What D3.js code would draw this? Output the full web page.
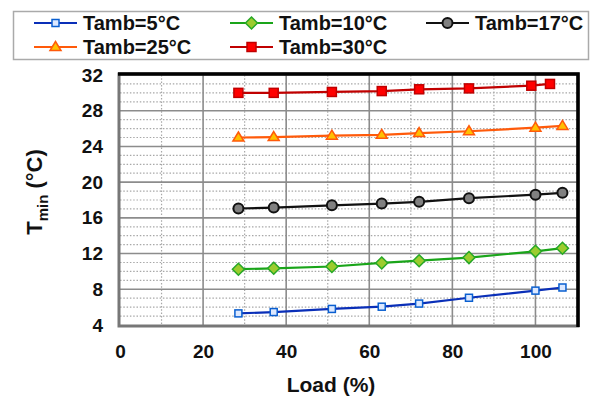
<!DOCTYPE html>
<html>
<head>
<meta charset="utf-8">
<script src="https://cdn.jsdelivr.net/npm/d3@7"></script>
<style>
  body { margin: 0; background: #fff; }
  svg text { font-family: Arial, "Liberation Sans", sans-serif; font-weight: bold; fill: #111; }
</style>
</head>
<body>
<svg id="chart" width="593" height="397"></svg>
<script>
// charge (%) pour chaque point
var loads = [28.5, 37, 51, 63, 72, 84, 100, 106.5];
var loadsRed = [28.5, 37, 51, 63, 72, 84, 99, 103.5];

// Tmin par temperature ambiante
var t5 = [5.3, 5.45, 5.8, 6.05, 6.4, 7.05, 7.85, 8.2];
var t10 = [10.25, 10.35, 10.55, 10.95, 11.2, 11.55, 12.25, 12.6];
var t17 = [17.05, 17.15, 17.4, 17.6, 17.8, 18.2, 18.6, 18.8];
var t25 = [25.0, 25.05, 25.2, 25.3, 25.5, 25.7, 26.1, 26.3];
var t30 = [30.0, 30.0, 30.1, 30.2, 30.4, 30.5, 30.8, 31.0];

var legendNames = ["Tamb=5°C", "Tamb=10°C", "Tamb=17°C", "Tamb=25°C", "Tamb=30°C"];
var xTicks = [0, 20, 40, 60, 80, 100];
var yTicks = [4, 8, 12, 16, 20, 24, 28, 32];

var series = [
  {name: legendNames[0], x: loads, y: t5, line: "#0a2fb8", stroke: "#0a5fd0", fill: "#dce8ff", shape: "square", size: 7},
  {name: legendNames[1], x: loads, y: t10, line: "#1aa51a", stroke: "#27a827", fill: "#9ccc2e", shape: "diamond", size: 10},
  {name: legendNames[2], x: loads, y: t17, line: "#111", stroke: "#111", fill: "#808080", shape: "circle", size: 7},
  {name: legendNames[3], x: loads, y: t25, line: "#ff5a0a", stroke: "#ff5a0a", fill: "#ffc000", shape: "triangle", size: 9},
  {name: legendNames[4], x: loadsRed, y: t30, line: "#c00000", stroke: "#c00000", fill: "#ff0000", shape: "bigsquare", size: 9}
];

var svg = d3.select("#chart");
var m = {left: 120, right: 577, top: 75, bottom: 325};

var x = d3.scaleLinear().domain([0, 110]).range([m.left, m.right]);
var y = d3.scaleLinear().domain([4, 32]).range([m.bottom, m.top]);

// grille mineure (pointillés)
var g = svg.append("g");
g.selectAll(".minY").data(d3.range(4, 33, 1).filter(function(d){ return d % 4 != 0; }))
  .enter().append("line")
  .attr("x1", m.left).attr("x2", m.right)
  .attr("y1", function(d){ return y(d); }).attr("y2", function(d){ return y(d); })
  .attr("stroke", "#a8a8a8").attr("stroke-width", 1.2).attr("stroke-dasharray", "1.5,1.8");
g.selectAll(".minX").data([10, 30, 50, 70, 90])
  .enter().append("line")
  .attr("y1", m.top).attr("y2", m.bottom)
  .attr("x1", function(d){ return x(d); }).attr("x2", function(d){ return x(d); })
  .attr("stroke", "#a8a8a8").attr("stroke-width", 1.2).attr("stroke-dasharray", "1.5,1.8");

// grille majeure
g.selectAll(".majY").data(yTicks.slice(1, -1))
  .enter().append("line")
  .attr("x1", m.left).attr("x2", m.right)
  .attr("y1", function(d){ return y(d); }).attr("y2", function(d){ return y(d); })
  .attr("stroke", "#8c8c8c").attr("stroke-width", 1.6);
g.selectAll(".majX").data([20, 40, 60, 80, 100])
  .enter().append("line")
  .attr("y1", m.top).attr("y2", m.bottom)
  .attr("x1", function(d){ return x(d); }).attr("x2", function(d){ return x(d); })
  .attr("stroke", "#8c8c8c").attr("stroke-width", 1.6);

// cadre
svg.append("rect").attr("x", m.left - 1).attr("y", m.top - 1)
  .attr("width", m.right - m.left + 2).attr("height", m.bottom - m.top + 2)
  .attr("fill", "none").attr("stroke", "#777").attr("stroke-width", 3);
svg.append("path")
  .attr("d", "M" + (m.left - 2) + "," + (m.top - 1) + "H" + (m.right + 1) + "V" + (m.bottom + 2))
  .attr("fill", "none").attr("stroke", "#000").attr("stroke-width", 3.5);

// axes
var xAxis = svg.append("g").attr("transform", "translate(0," + (m.bottom + 5) + ")")
  .call(d3.axisBottom(x).tickValues(xTicks).tickSize(0).tickPadding(15));
xAxis.select(".domain").remove();
xAxis.selectAll("text").style("font-size", "19px").attr("fill", "#111").style("font-family", "Arial, 'Liberation Sans', sans-serif");

var yAxis = svg.append("g").attr("transform", "translate(" + (m.left - 17) + ",0)")
  .call(d3.axisLeft(y).tickValues(yTicks).tickSize(0).tickPadding(0));
yAxis.select(".domain").remove();
yAxis.selectAll("text").style("font-size", "19px").attr("fill", "#111").style("font-family", "Arial, 'Liberation Sans', sans-serif");

svg.append("text").attr("x", 331).attr("y", 392).attr("text-anchor", "middle")
  .style("font-size", "21px").text("Load (%)");

var yt = svg.append("text").attr("transform", "translate(42,192) rotate(-90)")
  .attr("text-anchor", "middle").style("font-size", "22px");
yt.append("tspan").text("T");
yt.append("tspan").attr("dy", 6).style("font-size", "15px").text("min");
yt.append("tspan").attr("dy", -6).text(" (°C)");

// symboles
function marker(sel, s, cx, cy) {
  var r = s.size / 2;
  if (s.shape == "circle") {
    sel.append("circle").attr("cx", cx).attr("cy", cy).attr("r", r + 1.5);
  } else if (s.shape == "diamond") {
    sel.append("path").attr("d", "M" + cx + "," + (cy - r - 1) + "L" + (cx + r + 1) + "," + cy + "L" + cx + "," + (cy + r + 1) + "L" + (cx - r - 1) + "," + cy + "Z");
  } else if (s.shape == "triangle") {
    sel.append("path").attr("d", "M" + cx + "," + (cy - r - 1) + "L" + (cx + r + 1) + "," + (cy + r - 1) + "L" + (cx - r - 1) + "," + (cy + r - 1) + "Z");
  } else {
    sel.append("rect").attr("x", cx - r).attr("y", cy - r).attr("width", 2 * r).attr("height", 2 * r);
  }
  sel.selectAll("*").attr("fill", s.fill).attr("stroke", s.stroke).attr("stroke-width", s.shape == "circle" ? 2 : 1.5);
}

var line = d3.line().x(function(d){ return x(d[0]); }).y(function(d){ return y(d[1]); });

series.forEach(function(s) {
  var pts = d3.zip(s.x, s.y);
  svg.append("path").datum(pts).attr("d", line)
    .attr("fill", "none").attr("stroke", s.line).attr("stroke-width", 2.2);
  pts.forEach(function(p) {
    marker(svg.append("g"), s, x(p[0]), y(p[1]));
  });
});

// legende
svg.append("rect").attr("x", 13.5).attr("y", 11.5).attr("width", 575).attr("height", 48)
  .attr("fill", "#fff").attr("stroke", "#aaa").attr("stroke-width", 1.5);
var legPos = [[34, 23], [230, 23], [426, 23], [34, 47], [230, 47]];
series.forEach(function(s, i) {
  var lx = legPos[i][0], ly = legPos[i][1];
  svg.append("line").attr("x1", lx).attr("x2", lx + 43).attr("y1", ly).attr("y2", ly)
    .attr("stroke", s.line).attr("stroke-width", 2.2);
  marker(svg.append("g"), s, lx + 21.5, ly);
  svg.append("text").attr("x", lx + 49).attr("y", ly + 7).style("font-size", "20px").text(s.name);
});
</script>
</body>
</html>
